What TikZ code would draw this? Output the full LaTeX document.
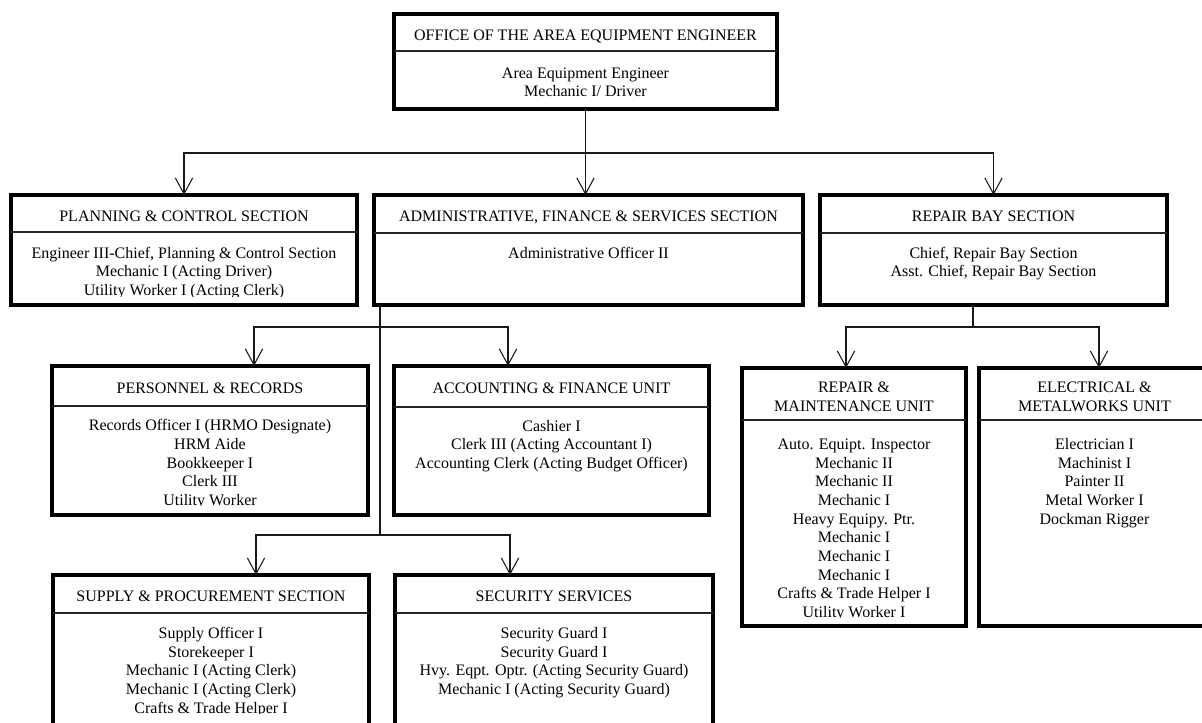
\documentclass[tikz,border=0pt]{standalone}
\usepackage{fontspec}
\setmainfont{Liberation Serif}
\usetikzlibrary{arrows.meta}
\tikzset{
  obox/.style={draw=black, line width=3pt, inner sep=0pt, outer sep=0pt},
  divline/.style={draw=black!85, line width=0.8pt},
  ttl/.style={inner sep=0pt, align=center, font=\fontsize{12pt}{14pt}\selectfont},
  bodytxt/.style={inner sep=0pt, align=center, font=\fontsize{12pt}{14pt}\selectfont},
  conn/.style={draw=black!90, line width=0.8pt},
  arr/.style={conn, -{Straight Barb[length=12pt,width=13pt]}},
}
% name, x1, y1, x2, y2, divider y, title baseline, title
\newcommand{\OrgBox}[8]{%
  \node[obox, anchor=north west, minimum width={(#4-#2-4)*0.75pt}, minimum height={(#5-#3-4)*0.75pt}] (#1) at ({#2+2},{#3+2}) {};
  \draw[divline] (#1.west |- 0,#6) -- (#1.east |- 0,#6);
  \node[ttl, anchor=north] (#1-title) at ({(#2+#4)/2},{#7-13.07}) {\strut #8};
}
% name, first baseline, clip y, text
\newcommand{\OrgBody}[4]{%
  \begin{scope}
    \clip (0,0) rectangle (1202,#3);
    \node[bodytxt, anchor=north] (#1-body) at (#1.north |- 0,{#2-13.07}) {\strut #4};
  \end{scope}
}
\begin{document}
\begin{tikzpicture}[x=0.75pt,y=-0.75pt]
\useasboundingbox (0,0) rectangle (1202,722);
\clip (0,0) rectangle (1202,722);

\OrgBox{office}{392}{12}{779}{111}{51}{40}{OFFICE OF THE AREA EQUIPMENT ENGINEER}
\OrgBody{office}{78}{722}{Area Equipment Engineer\\Mechanic I/ Driver}

\OrgBox{plan}{9}{193}{359}{307}{232}{221}{PLANNING \& CONTROL SECTION}
\OrgBody{plan}{258}{296}{Engineer III-Chief, Planning \& Control Section\\Mechanic I (Acting Driver)\\Utility Worker I (Acting Clerk)}

\OrgBox{admin}{372}{193}{805}{307}{233}{221}{ADMINISTRATIVE, FINANCE \& SERVICES SECTION}
\OrgBody{admin}{258}{722}{Administrative Officer II}

\OrgBox{rbay}{818}{193}{1169}{307}{233}{221}{REPAIR BAY SECTION}
\OrgBody{rbay}{258}{722}{Chief, Repair Bay Section\\Asst. Chief, Repair Bay Section}

\OrgBox{pers}{50}{364}{370}{517}{406}{393}{PERSONNEL \& RECORDS}
\OrgBody{pers}{430.7}{505.5}{Records Officer I (HRMO Designate)\\HRM Aide\\Bookkeeper I\\Clerk III\\Utility Worker}

\OrgBox{acct}{392}{364}{711}{517}{407}{393}{ACCOUNTING \& FINANCE UNIT}
\OrgBody{acct}{431}{722}{Cashier I\\Clerk III (Acting Accountant I)\\Accounting Clerk (Acting Budget Officer)}

\OrgBox{rm}{740}{366}{968}{628}{420}{392.7}{REPAIR \&\\MAINTENANCE UNIT}
\OrgBody{rm}{449.3}{617.5}{Auto. Equipt. Inspector\\Mechanic II\\Mechanic II\\Mechanic I\\Heavy Equipy. Ptr.\\Mechanic I\\Mechanic I\\Mechanic I\\Crafts \& Trade Helper I\\Utility Worker I}

\OrgBox{elec}{977}{366}{1212}{628}{420}{392.7}{ELECTRICAL \&\\METALWORKS UNIT}
\OrgBody{elec}{449.3}{722}{Electrician I\\Machinist I\\Painter II\\Metal Worker I\\Dockman Rigger}

\OrgBox{supply}{51}{573}{371}{760}{613}{601.7}{SUPPLY \& PROCUREMENT SECTION}
\OrgBody{supply}{638.3}{713}{Supply Officer I\\Storekeeper I\\Mechanic I (Acting Clerk)\\Mechanic I (Acting Clerk)\\Crafts \& Trade Helper I}

\OrgBox{sec}{393}{573}{715}{760}{613}{601.7}{SECURITY SERVICES}
\OrgBody{sec}{638.3}{722}{Security Guard I\\Security Guard I\\Hvy. Eqpt. Optr. (Acting Security Guard)\\Mechanic I (Acting Security Guard)}

% top level connectors
\coordinate (busTop) at (587,153);
\draw[conn] (office.south) -- (office.south |- busTop);
\draw[arr] (office.south |- busTop) -| (plan.north);
\draw[arr] (office.south |- busTop) -| (rbay.north);
\draw[arr] (office.south |- busTop) -- (office.south |- admin.north);

% administrative branch
\coordinate (aBusA) at (380,327);
\coordinate (aBusB) at (380,535);
\draw[conn] (admin.south -| aBusA) -- (aBusB);
\draw[arr] (aBusA) -| (pers.north -| 254,0);
\draw[arr] (aBusA) -| (acct.north -| 508,0);
\draw[arr] (aBusB) -| (supply.north -| 256,0);
\draw[arr] (aBusB) -| (sec.north -| 510,0);

% repair bay branch
\coordinate (rBus) at (973,327);
\draw[conn] (rbay.south -| rBus) -- (rBus);
\draw[arr] (rBus) -| (rm.north -| 846,0);
\draw[arr] (rBus) -| (elec.north -| 1099,0);
\end{tikzpicture}
\end{document}
